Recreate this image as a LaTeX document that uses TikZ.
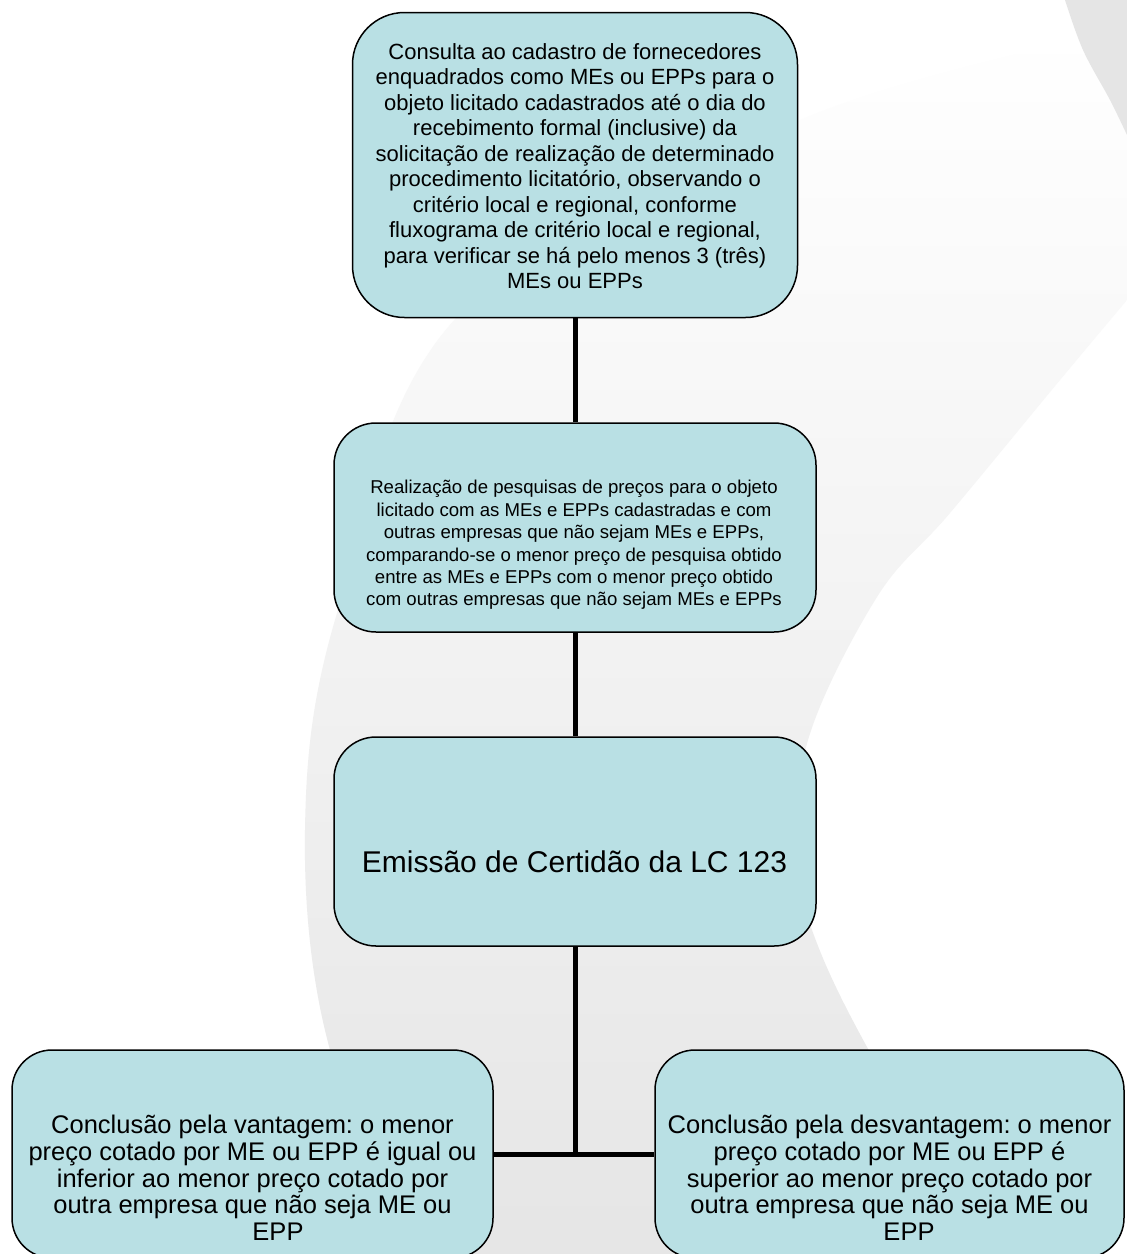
\documentclass[tikz,border=0pt]{standalone}
\usepackage{fontspec}
\setmainfont{Liberation Sans}
\frenchspacing
\definecolor{boxfill}{RGB}{185,224,228}
\tikzset{
  box/.style={draw=black, line width=1.5pt, fill=boxfill, rounded corners=#1, inner sep=0pt},
  box/.default=42pt,
  conn/.style={line width=5pt, draw=black},
  txt/.style={align=center, inner sep=0pt, text=black},
}
\begin{document}
\begin{tikzpicture}[x=1pt,y=-1pt]
\useasboundingbox (0,0) rectangle (1127,1254);
\clip (0,0) rectangle (1127,1254);
\fill[white] (0,0) rectangle (1127,1254);
% background swoosh
\shade[top color=white, middle color=gray!10, bottom color=gray!20]
  plot[smooth, tension=0.6] coordinates {(1127,30) (800,120) (457,317) (337,613) (305,830) (330,1050) (420,1254)}
  -- (990,1254)
  -- plot[smooth, tension=0.6] coordinates {(990,1254) (867,1047) (812,930) (800,860) (808,740) (877,597) (950,513) (1060,380) (1127,300)}
  -- cycle;
\fill[gray!20] plot[smooth, tension=0.6] coordinates {(1065,0) (1083,50) (1110,100) (1127,135)} -- (1127,0) -- cycle;

% boxes
\node[box=52pt, minimum width=445pt, minimum height=305pt] (b1) at (575,165) {};
\node[box=42pt, minimum width=482pt, minimum height=209pt] (b2) at (575,527.5) {};
\node[box=42pt, minimum width=482pt, minimum height=209pt] (b3) at (575,841.5) {};
\node[box=40pt, minimum width=481pt, minimum height=208pt] (b4) at (252.5,1154) {};
\node[box=40pt, minimum width=469pt, minimum height=208pt] (b5) at (889.5,1154) {};

% connectors
\draw[conn] (b1.south) -- (b2.north);
\draw[conn] (b2.south) -- (b3.north);
\draw[conn] (b4.east) -- (b5.west);
\coordinate (j) at (b3.south |- b4.east);
\draw[conn] (b3.south) -- (j);

% texts
\node[txt, font=\fontsize{22pt}{25.5pt}\selectfont] (t1) at (575,166) {Consulta ao cadastro de fornecedores\\
enquadrados como MEs ou EPPs para o\\
objeto licitado cadastrados até o dia do\\
recebimento formal (inclusive) da\\
solicitação de realização de determinado\\
procedimento licitatório, observando o\\
critério local e regional, conforme\\
fluxograma de critério local e regional,\\
para verificar se há pelo menos 3 (três)\\
MEs ou EPPs};

\node[txt, font=\fontsize{18.6pt}{22.4pt}\selectfont] (t2) at (574,545) {Realização de pesquisas de preços para o objeto\\
licitado com as MEs e EPPs cadastradas e com\\
outras empresas que não sejam MEs e EPPs,\\
comparando-se o menor preço de pesquisa obtido\\
entre as MEs e EPPs com o menor preço obtido\\
com outras empresas que não sejam MEs e EPPs};

\node[txt, font=\fontsize{30pt}{34pt}\selectfont, anchor=base] (t3) at (574.5,872) {Emissão de Certidão da LC 123};

\node[txt, font=\fontsize{25.5pt}{26.7pt}\selectfont] (t4) at (252.5,1178) {Conclusão pela vantagem: o menor\\
preço cotado por ME ou EPP é igual ou\\
inferior ao menor preço cotado por\\
outra empresa que não seja ME ou\\
\hspace*{51pt}EPP};

\node[txt, font=\fontsize{25.5pt}{26.7pt}\selectfont] (t5) at (889.5,1178) {Conclusão pela desvantagem: o menor\\
preço cotado por ME ou EPP é\\
superior ao menor preço cotado por\\
outra empresa que não seja ME ou\\
\hspace*{39pt}EPP};
\end{tikzpicture}
\end{document}
